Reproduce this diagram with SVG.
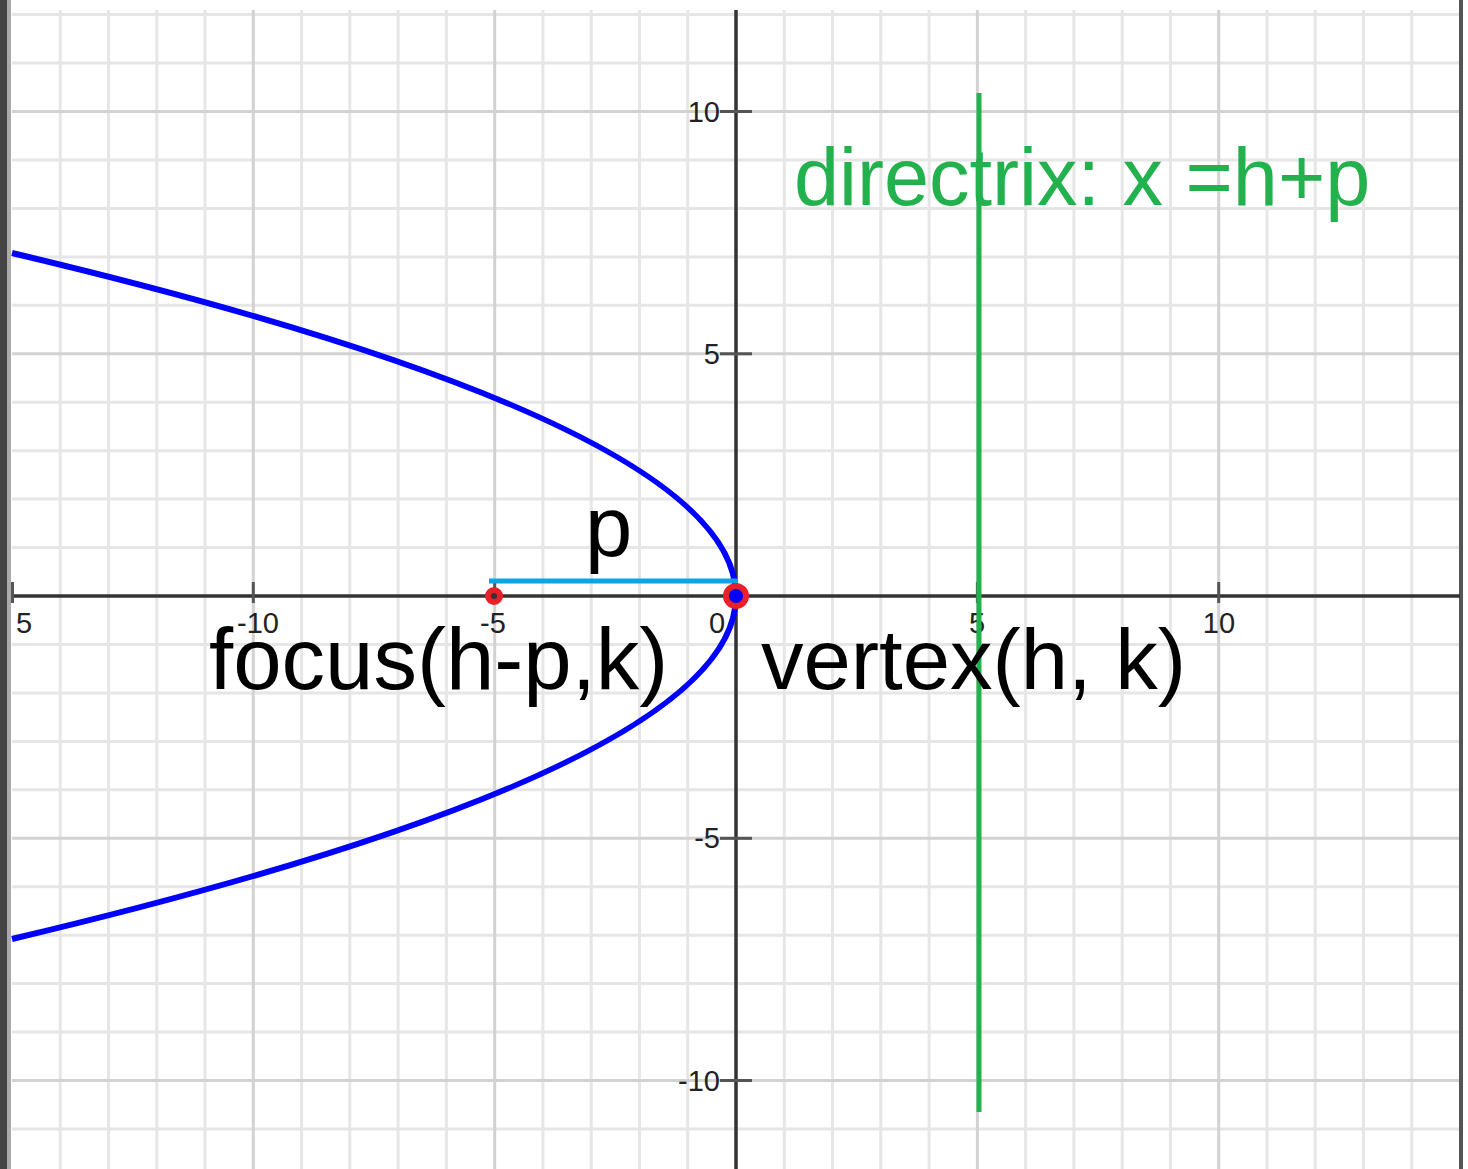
<svg xmlns="http://www.w3.org/2000/svg" width="1468" height="1169" viewBox="0 0 1468 1169">
<style>
.minor{stroke:#e6e6e6;stroke-width:3}
.major{stroke:#d2d2d2;stroke-width:3}
.axis{stroke:#333;stroke-width:3.5}
.tick{stroke:#555;stroke-width:3}
.num{font-family:"Liberation Sans",Arial,sans-serif;font-size:29px;fill:#222}
.big{font-family:"Liberation Sans",Arial,sans-serif;font-size:85px;fill:#000}
.green{font-family:"Liberation Sans",Arial,sans-serif;font-size:81px;fill:#22b14c}
</style>
<rect width="1468" height="1169" fill="#fff"/>
<g id="grid">
<g class="minor">
<line x1="60.2" y1="10" x2="60.2" y2="1169"/><line x1="108.5" y1="10" x2="108.5" y2="1169"/><line x1="156.8" y1="10" x2="156.8" y2="1169"/><line x1="205" y1="10" x2="205" y2="1169"/>
<line x1="301.6" y1="10" x2="301.6" y2="1169"/><line x1="349.8" y1="10" x2="349.8" y2="1169"/><line x1="398.1" y1="10" x2="398.1" y2="1169"/><line x1="446.4" y1="10" x2="446.4" y2="1169"/>
<line x1="542.9" y1="10" x2="542.9" y2="1169"/><line x1="591.2" y1="10" x2="591.2" y2="1169"/><line x1="639.5" y1="10" x2="639.5" y2="1169"/><line x1="687.7" y1="10" x2="687.7" y2="1169"/>
<line x1="784.3" y1="10" x2="784.3" y2="1169"/><line x1="832.5" y1="10" x2="832.5" y2="1169"/><line x1="880.8" y1="10" x2="880.8" y2="1169"/><line x1="929.1" y1="10" x2="929.1" y2="1169"/>
<line x1="1025.6" y1="10" x2="1025.6" y2="1169"/><line x1="1073.9" y1="10" x2="1073.9" y2="1169"/><line x1="1122.2" y1="10" x2="1122.2" y2="1169"/><line x1="1170.4" y1="10" x2="1170.4" y2="1169"/>
<line x1="1267" y1="10" x2="1267" y2="1169"/><line x1="1315.2" y1="10" x2="1315.2" y2="1169"/><line x1="1363.5" y1="10" x2="1363.5" y2="1169"/><line x1="1411.8" y1="10" x2="1411.8" y2="1169"/>
<line x1="12" y1="14.6" x2="1460" y2="14.6"/><line x1="12" y1="63.1" x2="1460" y2="63.1"/><line x1="12" y1="160" x2="1460" y2="160"/><line x1="12" y1="208.4" x2="1460" y2="208.4"/><line x1="12" y1="256.9" x2="1460" y2="256.9"/><line x1="12" y1="305.3" x2="1460" y2="305.3"/>
<line x1="12" y1="402.2" x2="1460" y2="402.2"/><line x1="12" y1="450.7" x2="1460" y2="450.7"/><line x1="12" y1="499.1" x2="1460" y2="499.1"/><line x1="12" y1="547.6" x2="1460" y2="547.6"/>
<line x1="12" y1="644.5" x2="1460" y2="644.5"/><line x1="12" y1="692.9" x2="1460" y2="692.9"/><line x1="12" y1="741.4" x2="1460" y2="741.4"/><line x1="12" y1="789.8" x2="1460" y2="789.8"/>
<line x1="12" y1="886.7" x2="1460" y2="886.7"/><line x1="12" y1="935.2" x2="1460" y2="935.2"/><line x1="12" y1="983.6" x2="1460" y2="983.6"/><line x1="12" y1="1032.1" x2="1460" y2="1032.1"/><line x1="12" y1="1129" x2="1460" y2="1129"/>
</g>
<g class="major">
<line x1="253.3" y1="10" x2="253.3" y2="1169"/><line x1="494.7" y1="10" x2="494.7" y2="1169"/><line x1="977.4" y1="10" x2="977.4" y2="1169"/><line x1="1218.7" y1="10" x2="1218.7" y2="1169"/>
<line x1="12" y1="111.5" x2="1460" y2="111.5"/><line x1="12" y1="353.8" x2="1460" y2="353.8"/><line x1="12" y1="838.3" x2="1460" y2="838.3"/><line x1="12" y1="1080.5" x2="1460" y2="1080.5"/>
</g>
</g>
<g id="frame">
<rect x="0" y="0" width="7" height="1169" fill="#444"/>
<rect x="7" y="0" width="4" height="1169" fill="#aaa"/>
<rect x="1459" y="0" width="4" height="1169" fill="#555"/>
</g>
<g id="axes">
<line class="axis" x1="12" y1="596" x2="1460" y2="596"/>
<line class="axis" x1="736" y1="10" x2="736" y2="1169"/>
<g class="tick">
<line x1="12.5" y1="582" x2="12.5" y2="603"/><line x1="253.3" y1="582" x2="253.3" y2="603"/><line x1="494.7" y1="582" x2="494.7" y2="603"/><line x1="977.4" y1="582" x2="977.4" y2="603"/><line x1="1218.7" y1="582" x2="1218.7" y2="603"/>
<line x1="720" y1="111.5" x2="752" y2="111.5"/><line x1="720" y1="353.8" x2="752" y2="353.8"/><line x1="720" y1="838.3" x2="752" y2="838.3"/><line x1="720" y1="1080.5" x2="752" y2="1080.5"/>
</g>
<g class="num">
<text x="16" y="633">5</text>
<text x="258" y="633" text-anchor="middle">-10</text>
<text x="493" y="633" text-anchor="middle">-5</text>
<text x="709" y="633">0</text>
<text x="977" y="633" text-anchor="middle">5</text>
<text x="1219" y="633" text-anchor="middle">10</text>
<text x="720" y="122" text-anchor="end">10</text>
<text x="720" y="364" text-anchor="end">5</text>
<text x="720" y="848" text-anchor="end">-5</text>
<text x="720" y="1091" text-anchor="end">-10</text>
</g>
</g>
<g id="connectors">
<path id="parabola" d="M12,253 Q1460,596 12,939" fill="none" stroke="#0000ff" stroke-width="6"/>
<line id="p-segment" x1="489" y1="581" x2="738" y2="581" stroke="#0aa5e6" stroke-width="5"/>
<line id="directrix" x1="979" y1="93" x2="979" y2="1112" stroke="#22b14c" stroke-width="5"/>
</g>
<g id="focus">
<circle cx="494" cy="596" r="6" fill="#333" stroke="#e8202a" stroke-width="6"/>
<text class="big" x="209" y="689" style="font-size:87px">focus(h-p,k)</text>
</g>
<g id="vertex">
<circle cx="736" cy="596" r="10" fill="#0000ff" stroke="#e8202a" stroke-width="6"/>
<text class="big" x="761" y="689">vertex(h, k)</text>
</g>
<g id="p-label">
<text class="big" x="585" y="556">p</text>
</g>
<g id="directrix-label">
<text class="green" x="794" y="205">directrix: x =h+p</text>
</g>
</svg>
